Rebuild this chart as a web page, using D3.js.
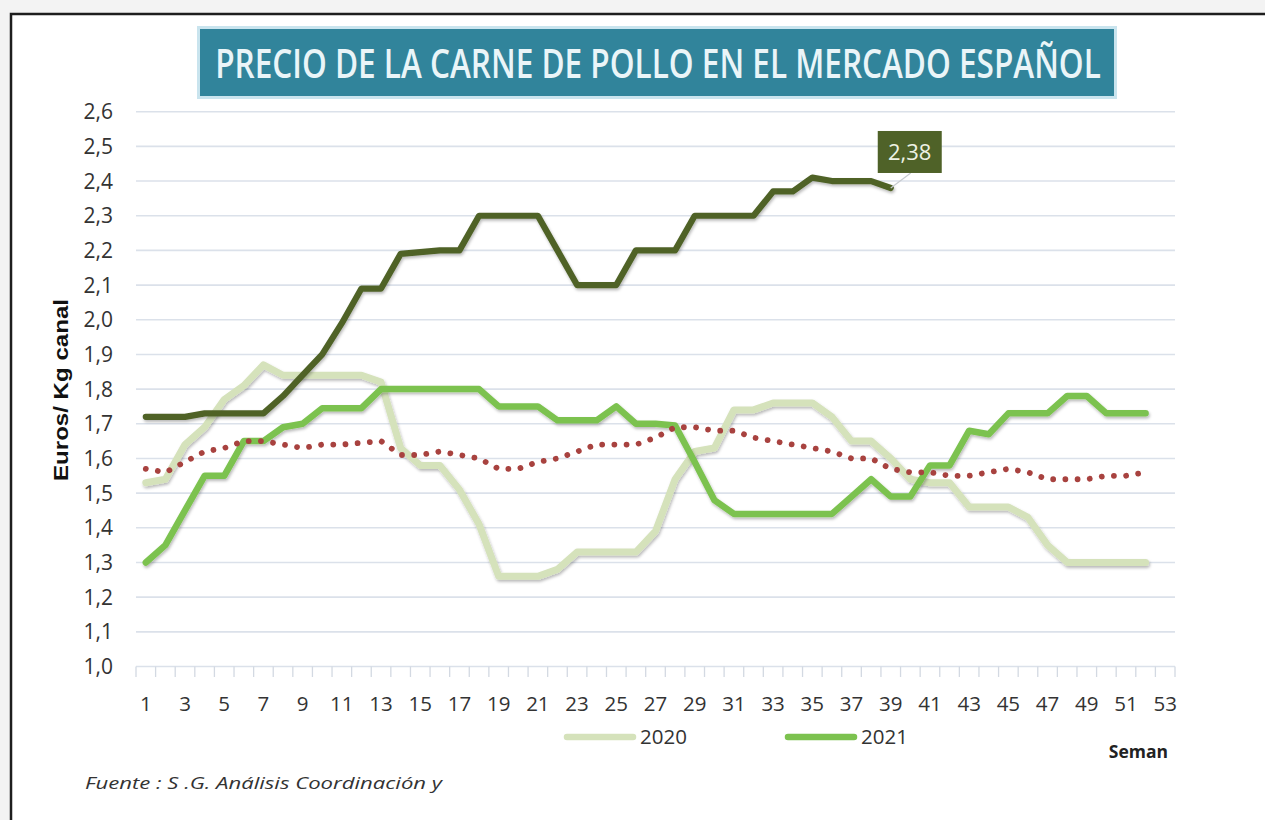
<!DOCTYPE html>
<html><head><meta charset="utf-8">
<script src="https://cdn.jsdelivr.net/npm/d3@7"></script>
<style>
html,body{margin:0;padding:0;background:#f3f3f3;overflow:hidden}
svg{display:block}
</style></head>
<body><svg id="c" width="1265" height="820"></svg>
<script>
// ---- data ----
const weeks = d3.range(1, 54);
const tickLabels = d3.range(1, 54, 2);
const yTicks = [1.0,1.1,1.2,1.3,1.4,1.5,1.6,1.7,1.8,1.9,2.0,2.1,2.2,2.3,2.4,2.5,2.6];

const s2020 = [1.53,1.54,1.64,1.69,1.77,1.81,1.87,1.84,1.84,1.84,1.84,1.84,1.82,1.63,1.58,1.58,1.51,1.41,1.26,1.26,
  1.26,1.28,1.33,1.33,1.33,1.33,1.39,1.54,1.62,1.63,1.74,1.74,1.76,1.76,1.76,1.72,1.65,1.65,1.60,1.54,
  1.53,1.53,1.46,1.46,1.46,1.43,1.35,1.30,1.30,1.30,1.30,1.30];
const s2021 = [1.30,1.35,1.45,1.55,1.55,1.65,1.65,1.69,1.70,1.745,1.745,1.745,1.80,1.80,1.80,1.80,1.80,1.80,1.75,1.75,
  1.75,1.71,1.71,1.71,1.75,1.70,1.70,1.695,1.59,1.48,1.44,1.44,1.44,1.44,1.44,1.44,1.49,1.54,1.49,1.49,
  1.58,1.58,1.68,1.67,1.73,1.73,1.73,1.78,1.78,1.73,1.73,1.73];
const s2022 = [1.72,1.72,1.72,1.73,1.73,1.73,1.73,1.78,1.84,1.90,1.99,2.09,2.09,2.19,2.195,2.20,2.20,2.30,2.30,2.30,
  2.30,2.20,2.10,2.10,2.10,2.20,2.20,2.20,2.30,2.30,2.30,2.30,2.37,2.37,2.41,2.40,2.40,2.40,2.38];
const sMedia = [1.57,1.56,1.59,1.62,1.63,1.65,1.65,1.64,1.63,1.64,1.64,1.645,1.65,1.61,1.61,1.62,1.61,1.60,1.57,1.57,
  1.59,1.60,1.62,1.64,1.64,1.64,1.66,1.69,1.69,1.68,1.68,1.66,1.65,1.64,1.63,1.62,1.60,1.60,1.57,1.56,
  1.56,1.55,1.55,1.56,1.57,1.56,1.54,1.54,1.54,1.55,1.55,1.56];
const lastLabel = "2,38";
const legendNames = ["2020", "2021"];

// ---- drawing ----
const svg = d3.select("#c");
const fmt = d => d3.format(".1f")(d).replace(".", ",");

// frame
svg.append("rect").attr("x", 11).attr("y", 14).attr("width", 1270).attr("height", 830)
  .attr("fill", "#fff").attr("stroke", "#1e1e1e").attr("stroke-width", 2.5);

const defs = svg.append("defs");
const f = defs.append("filter").attr("id", "sh").attr("x", "-5%").attr("y", "-20%").attr("width", "110%").attr("height", "140%");
f.append("feDropShadow").attr("dx", 1).attr("dy", 2).attr("stdDeviation", 1.5)
  .attr("flood-color", "#000").attr("flood-opacity", 0.28);

const x = d3.scaleBand().domain(weeks).range([136, 1175]).padding(0);
const y = d3.scaleLinear().domain([1.0, 2.6]).range([666.5, 111.7]);
const cx = w => x(w) + x.bandwidth() / 2;

// gridlines
svg.append("g").selectAll("line").data(yTicks).join("line")
  .attr("x1", 136).attr("x2", 1175).attr("y1", d => y(d)).attr("y2", d => y(d))
  .attr("stroke", "#dbe1ea").attr("stroke-width", 1.6);

// y tick labels
svg.append("g").selectAll("text").data(yTicks).join("text")
  .attr("x", 113).attr("y", d => y(d)).attr("dy", "0.36em").attr("text-anchor", "end")
  .attr("font-family", "Open Sans, sans-serif").attr("font-size", 21).attr("fill", "#333")
  .text(fmt);

// x ticks (between categories)
const tickPos = weeks.map(w => x(w)).concat([1175]);
svg.append("g").selectAll("line").data(tickPos).join("line")
  .attr("x1", d => d).attr("x2", d => d).attr("y1", 666.5).attr("y2", 677)
  .attr("stroke", "#d3d9e2").attr("stroke-width", 1.3);
svg.append("g").selectAll("text").data(tickLabels).join("text")
  .attr("x", d => cx(d)).attr("y", 704).attr("dy", "0.36em").attr("text-anchor", "middle")
  .attr("font-family", "Open Sans, sans-serif").attr("font-size", 20.5).attr("fill", "#333")
  .text(d => d);

// y title
svg.append("text").attr("transform", "translate(68,390) rotate(-90)")
  .attr("text-anchor", "middle").attr("font-family", "Liberation Sans, Arial, sans-serif")
  .attr("font-weight", "bold").attr("font-size", 21).attr("fill", "#111")
  .attr("textLength", 182).attr("lengthAdjust", "spacingAndGlyphs")
  .text("Euros/ Kg canal");

// lines
const line = d3.line().x((d, i) => cx(i + 1)).y(d => y(d));
function drawLine(data, color, width, extra) {
  const p = svg.append("path").datum(data).attr("d", line).attr("fill", "none")
    .attr("stroke", color).attr("stroke-width", width)
    .attr("stroke-linejoin", "round").attr("stroke-linecap", "round");
  if (extra) extra(p);
  return p;
}
drawLine(s2020, "#d5e2bb", 7, p => p.attr("filter", "url(#sh)"));
drawLine(s2021, "#7cc24f", 6.5, p => p.attr("filter", "url(#sh)"));
drawLine(sMedia, "#a8423f", 5.8, p => p.attr("stroke-dasharray", "0.01 12.2"));
drawLine(s2022, "#4f6228", 6.2, p => p.attr("filter", "url(#sh)"));

// last value annotation
const lx = cx(s2022.length), ly = y(s2022[s2022.length - 1]);
svg.append("line").attr("x1", lx).attr("y1", ly).attr("x2", lx + 20).attr("y2", ly - 15)
  .attr("stroke", "#c7cbd0").attr("stroke-width", 1.2);
svg.append("rect").attr("x", lx - 13).attr("y", ly - 57).attr("width", 64).attr("height", 42)
  .attr("fill", "#4f6228");
svg.append("text").attr("x", lx + 19).attr("y", ly - 36).attr("dy", "0.36em").attr("text-anchor", "middle")
  .attr("font-family", "Open Sans, sans-serif").attr("font-size", 22).attr("fill", "#eef2e4")
  .text(lastLabel);

// title box
svg.append("rect").attr("x", 197).attr("y", 26).attr("width", 920).attr("height", 73)
  .attr("fill", "#c9e4ee");
svg.append("rect").attr("x", 200).attr("y", 29).attr("width", 914).attr("height", 67)
  .attr("fill", "#31849b");
const tg = svg.append("g");
const tt = tg.append("text").attr("x", 0).attr("y", 0).attr("dy", "0.36em").attr("text-anchor", "middle")
  .attr("font-family", "Open Sans, sans-serif").attr("font-weight", 600).attr("font-size", 39).attr("fill", "#eaf5f8")
  .text("PRECIO DE LA CARNE DE POLLO EN EL MERCADO ESPAÑOL");
const natW = tt.node().getComputedTextLength();
tg.attr("transform", `translate(658,64) scale(${Math.min(1, 886 / natW)},1)`);

// legend
const legColors = ["#d5e2bb", "#7cc24f"];
const legX = [567, 788];
legendNames.forEach((n, i) => {
  svg.append("line").attr("x1", legX[i]).attr("x2", legX[i] + 66).attr("y1", 737).attr("y2", 737)
    .attr("stroke", legColors[i]).attr("stroke-width", 6.5).attr("stroke-linecap", "round");
  svg.append("text").attr("x", legX[i] + 73).attr("y", 737).attr("dy", "0.36em")
    .attr("font-family", "Open Sans, sans-serif").attr("font-size", 20.5).attr("fill", "#333").text(n);
});

svg.append("text").attr("x", 1168).attr("y", 752).attr("dy", "0.36em").attr("text-anchor", "end")
  .attr("font-family", "Open Sans, sans-serif").attr("font-weight", "bold").attr("font-size", 17.5)
  .attr("fill", "#222").text("Seman");

svg.append("text").attr("x", 85).attr("y", 783).attr("dy", "0.36em")
  .attr("font-family", "Open Sans, sans-serif").attr("font-style", "italic").attr("font-size", 16)
  .attr("fill", "#333").attr("textLength", 357).attr("lengthAdjust", "spacingAndGlyphs")
  .text("Fuente :  S .G. Análisis Coordinación y");
</script></body></html>
